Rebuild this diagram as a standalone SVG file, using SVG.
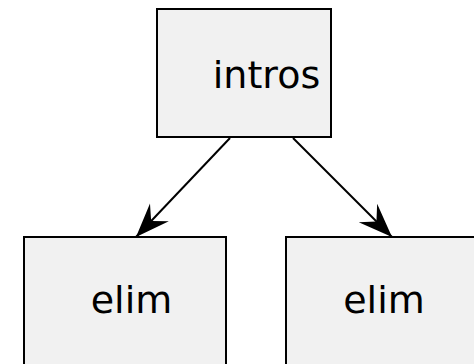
<svg xmlns="http://www.w3.org/2000/svg" width="474" height="364" viewBox="0 0 474 364">
  <style>
    .box { fill: #f1f1f1; stroke: #000; stroke-width: 2; }
    .label { font-family: "DejaVu Sans", sans-serif; font-size: 38px; fill: #000; }
    .edge { stroke: #000; stroke-width: 2; fill: none; }
  </style>
  <defs>
    <marker id="arrow" markerUnits="userSpaceOnUse" markerWidth="40" markerHeight="30" refX="35" refY="14" orient="auto">
      <path d="M35,14 L1,1 L13,14 L1,27 Z" fill="#000"/>
    </marker>
  </defs>
  <rect width="474" height="364" fill="#fff"/>
  <g id="connectors">
    <line class="edge" x1="230" y1="138" x2="136" y2="237" marker-end="url(#arrow)"/>
    <line class="edge" x1="293" y1="138" x2="392" y2="237" marker-end="url(#arrow)"/>
  </g>
  <g id="intros">
    <rect class="box" x="157" y="9" width="174" height="128"/>
    <text class="label" x="266.5" y="88" text-anchor="middle">intros</text>
  </g>
  <g id="elim-left">
    <rect class="box" x="24" y="237" width="202" height="140"/>
    <text class="label" x="131.5" y="313" text-anchor="middle">elim</text>
  </g>
  <g id="elim-right">
    <rect class="box" x="286" y="237" width="203" height="140"/>
    <text class="label" x="384" y="313" text-anchor="middle">elim</text>
  </g>
</svg>
